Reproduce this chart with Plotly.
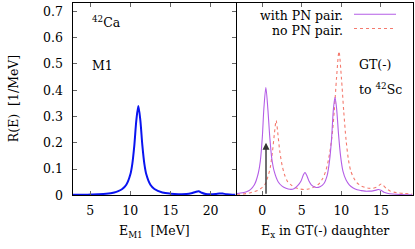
import plotly.graph_objects as go

# ---- data ----
m1_energy = [2.8, 4, 5, 6, 7, 8, 8.5, 9, 9.5, 10, 10.25, 10.5, 10.75, 11.0, 11.25, 11.5,
             11.75, 12, 12.5, 13, 14, 15, 16, 17, 17.6, 18.1, 18.5, 18.9, 19.4, 20, 20.6,
             21.1, 21.5, 22, 23.1]
m1_strength = [0.002, 0.002, 0.003, 0.004, 0.006, 0.011, 0.016, 0.024, 0.040, 0.079, 0.12,
               0.19, 0.285, 0.34, 0.285, 0.19, 0.12, 0.079, 0.040, 0.024, 0.011, 0.0065,
               0.0045, 0.005, 0.008, 0.013, 0.016, 0.010, 0.005, 0.004, 0.005, 0.007, 0.007,
               0.004, 0.002]

gt_with_energy = [-3.2, -2.5, -2.0, -1.5, -1.0, -0.5, -0.25, 0.0, 0.2, 0.45, 0.7, 0.95, 1.2,
                  1.5, 2.0, 2.5, 3.0, 3.5, 4.0, 4.5, 4.9, 5.2, 5.4, 5.6, 5.9, 6.2, 6.8, 7.3,
                  7.8, 8.2, 8.5, 8.75, 9.0, 9.2, 9.4, 9.65, 9.9, 10.2, 10.6, 11.0, 11.5, 12.0,
                  12.5, 13.0, 13.5, 14.0, 14.4, 14.7, 15.0, 15.4, 15.8, 16.5, 17.5, 19.0]
gt_with = [0.007, 0.010, 0.014, 0.022, 0.040, 0.085, 0.13, 0.22, 0.33, 0.41, 0.33, 0.22,
           0.14, 0.092, 0.052, 0.035, 0.027, 0.023, 0.025, 0.038, 0.055, 0.078, 0.087, 0.077,
           0.055, 0.040, 0.030, 0.033, 0.045, 0.075, 0.13, 0.21, 0.33, 0.373, 0.33, 0.23,
           0.15, 0.092, 0.058, 0.040, 0.028, 0.021, 0.018, 0.016, 0.016, 0.017, 0.020, 0.022,
           0.019, 0.012, 0.008, 0.005, 0.003, 0.002]

gt_no_energy = [-3.2, -2.5, -2.0, -1.5, -1.0, -0.5, 0.0, 0.4, 0.7, 1.0, 1.3, 1.55, 1.75, 1.95,
                2.2, 2.5, 2.8, 3.2, 3.7, 4.2, 4.8, 5.3, 5.8, 6.3, 6.8, 7.2, 7.6, 8.0, 8.4, 8.8,
                9.1, 9.4, 9.7, 10.0, 10.3, 10.6, 10.9, 11.2, 11.6, 12.0, 12.5, 13.0, 13.5, 14.0,
                14.5, 14.8, 15.05, 15.3, 15.7, 16.2, 17.0, 18.0, 19.0]
gt_no = [0.004, 0.005, 0.007, 0.010, 0.014, 0.020, 0.030, 0.045, 0.070, 0.105, 0.17, 0.24,
         0.285, 0.24, 0.17, 0.115, 0.08, 0.052, 0.038, 0.029, 0.024, 0.022, 0.024, 0.028,
         0.036, 0.045, 0.062, 0.090, 0.14, 0.22, 0.32, 0.45, 0.547, 0.45, 0.32, 0.21, 0.135,
         0.092, 0.064, 0.047, 0.036, 0.030, 0.027, 0.027, 0.032, 0.039, 0.043, 0.038, 0.026,
         0.016, 0.010, 0.007, 0.005]

arrow_x = 0.47
arrow_y = 0.2

y_tick_vals = [0, 0.1, 0.2, 0.3, 0.4, 0.5, 0.6, 0.7]
y_tick_text = ["0", "0.1", "0.2", "0.3", "0.4", "0.5", "0.6", "0.7"]
m1_tick_vals = [5, 10, 15, 20]
gt_tick_vals = [0, 5, 10, 15]

# ---- figure ----
W, H = 415, 249
FONT = "DejaVu Serif, serif"
PURPLE = "#b45ee6"
RED = "#f47a6e"

fig = go.Figure()
fig.add_trace(go.Scatter(x=m1_energy, y=m1_strength, mode="lines",
                         line=dict(color="#0a14f0", width=2, shape="spline", smoothing=0.8),
                         xaxis="x", yaxis="y", showlegend=False))
fig.add_trace(go.Scatter(x=gt_no_energy, y=gt_no, mode="lines",
                         line=dict(color=RED, width=1.1, dash="dot", shape="spline", smoothing=0.8),
                         xaxis="x2", yaxis="y2", showlegend=False))
fig.add_trace(go.Scatter(x=gt_with_energy, y=gt_with, mode="lines",
                         line=dict(color=PURPLE, width=1.1, shape="spline", smoothing=0.8),
                         xaxis="x2", yaxis="y2", showlegend=False))

def px_x(p):
    return p / W

def px_y(p):
    return 1 - p / H

ydom = [px_y(201), px_y(3.5)]
axis_common = dict(showline=True, linecolor="black", linewidth=1, ticks="inside",
                   ticklen=4, tickcolor="#666", showgrid=False, zeroline=False,
                   tickfont=dict(family=FONT, size=12.5, color="black"))

fig.update_layout(
    width=W, height=H, margin=dict(l=0, r=0, t=0, b=0),
    paper_bgcolor="white", plot_bgcolor="white",
    font=dict(family=FONT, color="black"),
    xaxis=dict(domain=[px_x(72.5), px_x(235.5)], range=[2.8, 23.1], tickvals=m1_tick_vals,
               mirror="ticks", anchor="y", ticklabelstandoff=4, **axis_common),
    yaxis=dict(domain=ydom, range=[0, 0.73], tickvals=y_tick_vals, ticktext=y_tick_text,
               mirror="ticks", anchor="x", ticklabelstandoff=6, **axis_common),
    xaxis2=dict(domain=[px_x(237), px_x(412.5)], range=[-3.2, 19.0], tickvals=gt_tick_vals,
                mirror="ticks", anchor="y2", ticklabelstandoff=4, **axis_common),
    yaxis2=dict(domain=ydom, range=[0, 0.73], tickvals=y_tick_vals, showticklabels=False,
                mirror=True, anchor="x2", showline=True, linecolor="black", linewidth=1,
                ticks="", showgrid=False, zeroline=False),
)

ann_font = dict(family=FONT, size=12.5, color="black")
texts = [
    ("<sup>42</sup>Ca", 90, 23, "left"),
    ("M1", 90, 67, "left"),
    ("GT(-)", 357, 66, "left"),
    ("to <sup>42</sup>Sc", 357, 92, "left"),
    ("with PN pair.", 345, 16, "right"),
    ("no PN pair.", 345, 31, "right"),
]
for t, x, y, anchor in texts:
    fig.add_annotation(text=t, x=px_x(x), y=px_y(y), xref="paper", yref="paper",
                       xanchor=anchor, yanchor="middle", showarrow=False, font=ann_font)

# axis titles
fig.add_annotation(text="R(E)  [1/MeV]", x=px_x(13), y=px_y(102), xref="paper", yref="paper",
                   textangle=-90, showarrow=False, font=ann_font, xanchor="center", yanchor="middle")
fig.add_annotation(text="E<sub>M1</sub>  [MeV]", x=px_x(154), y=px_y(238), xref="paper",
                   yref="paper", showarrow=False, font=ann_font, xanchor="center", yanchor="middle")
fig.add_annotation(text="E<sub>x</sub> in GT(-) daughter", x=px_x(325), y=px_y(238),
                   xref="paper", yref="paper", showarrow=False, font=ann_font,
                   xanchor="center", yanchor="middle")

# legend samples
fig.add_shape(type="line", xref="paper", yref="paper", x0=px_x(354), x1=px_x(396),
              y0=px_y(14.7), y1=px_y(14.7), line=dict(color=PURPLE, width=1.1))
fig.add_shape(type="line", xref="paper", yref="paper", x0=px_x(354), x1=px_x(396),
              y0=px_y(29.3), y1=px_y(29.3), line=dict(color=RED, width=1.1, dash="dot"))

# arrow
fig.add_annotation(x=arrow_x, y=arrow_y, ax=arrow_x, ay=0, xref="x2", yref="y2",
                   axref="x2", ayref="y2", showarrow=True, arrowhead=2, arrowsize=1,
                   arrowwidth=1.4, arrowcolor="#333", text="")

fig.write_html("out.html", config={"displayModeBar": False},
               post_script="document.body.style.margin='0';document.body.style.overflow='hidden';")
